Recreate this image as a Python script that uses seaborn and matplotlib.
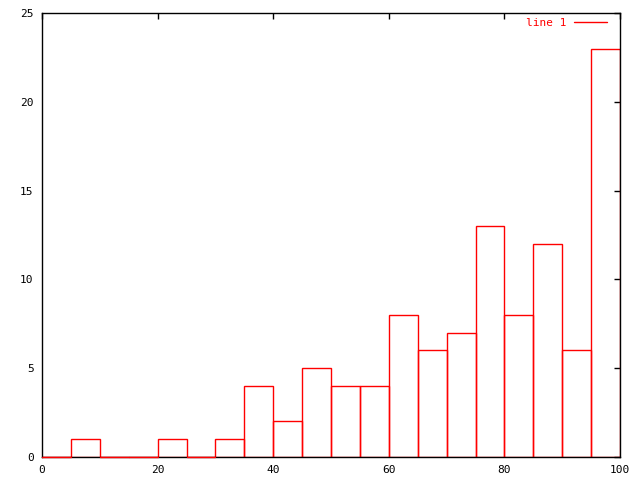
import numpy as np
import pandas as pd
import matplotlib
matplotlib.use("Agg")
import matplotlib.pyplot as plt
import seaborn as sns
from matplotlib.lines import Line2D

bin_left = [0, 5, 10, 15, 20, 25, 30, 35, 40, 45, 50, 55, 60, 65, 70, 75, 80, 85, 90, 95]
counts = [0, 1, 0, 0, 1, 0, 1, 4, 2, 5, 4, 4, 8, 6, 7, 13, 8, 12, 6, 23]
xticks = [0, 20, 40, 60, 80, 100]
yticks = [0, 5, 10, 15, 20, 25]
legend_label = "line 1"

sns.set_style("white")
plt.rcParams['font.family'] = ['DejaVu Sans Mono']

fig = plt.figure(figsize=(6.4, 4.8), dpi=100)
ax = fig.add_axes([42/640, 23/480, 578/640, 444/480])

df = pd.DataFrame({"center": [b + 2.5 for b in bin_left], "count": counts})
sns.histplot(data=df, x="center", weights="count", binwidth=5, binrange=(0, 100),
             fill=False, element="bars", color="red", linewidth=1, ax=ax)
# zero-height bins drawn on top of the axis line, as in reference
zero_left = [b for b, c in zip(bin_left, counts) if c == 0]
for b in zero_left:
    ax.plot([b, b + 5], [0, 0], color="red", lw=1, zorder=5, clip_on=False)

ax.set_xlim(0, 100)
ax.set_ylim(0, 25)
ax.set_xticks(xticks)
ax.set_yticks(yticks)
ax.set_xlabel("")
ax.set_ylabel("")
for s in ax.spines.values():
    s.set_visible(True)
    s.set_color("black")
    s.set_linewidth(1)
    s.set_zorder(4)
ax.tick_params(direction="in", length=4, width=1, top=True, right=True,
               labelsize=8, colors="black", pad=6)
ax.legend(handles=[Line2D([], [], color="red", lw=1)], labels=[legend_label],
          loc="upper right", bbox_to_anchor=(0.9836, 0.997), frameon=False,
          markerfirst=False, fontsize=8, labelcolor="red", handlelength=3.0,
          handletextpad=0.7, borderaxespad=0.0, borderpad=0.3)

fig.savefig("out.png", dpi=100)
